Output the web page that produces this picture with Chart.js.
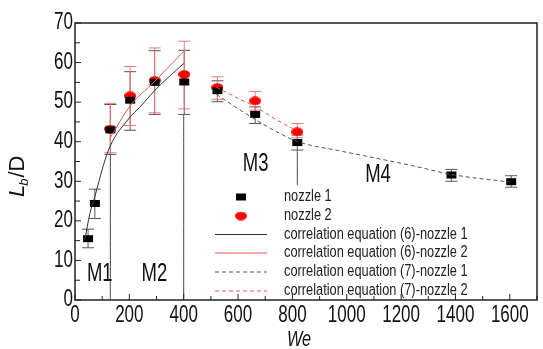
<!DOCTYPE html>
<html>
<head>
<meta charset="utf-8">
<script src="https://cdn.jsdelivr.net/npm/chart.js@4"></script>
<style>
  html, body { margin: 0; padding: 0; background: #fff; }
  #chart { display: block; }
</style>
</head>
<body>
<canvas id="chart" width="543" height="349"></canvas>
<script>
// measured points, nozzle 1 (black squares)
const weN1 = [48, 73, 130, 203, 293, 402, 524, 663, 818, 1385, 1605];
const lbN1 = [15.5, 24.4, 43.0, 50.5, 55.0, 55.1, 52.9, 46.9, 39.8, 31.6, 29.9];
const lbN1Lo = [13.2, 20.6, 36.8, 42.9, 46.9, 46.9, 50.1, 44.6, 37.9, 30.0, 28.5];
const lbN1Hi = [17.9, 28.0, 49.4, 57.7, 63.0, 63.1, 55.4, 48.8, 41.7, 33.0, 31.4];

// measured points, nozzle 2 (red ellipses)
const weN2 = [130, 203, 293, 402, 524, 663, 818];
const lbN2 = [43.2, 51.6, 55.5, 57.0, 53.7, 50.3, 42.5];
const lbN2Lo = [37.2, 44.1, 47.3, 48.3, 50.7, 48.0, 41.0];
const lbN2Hi = [49.7, 59.0, 63.7, 65.4, 56.4, 52.7, 44.6];

// correlation curves
const eq6N1We = [36, 55, 73, 103, 128, 200, 237, 294, 400];
const eq6N1Lb = [15.2, 21.9, 26.1, 33.7, 38.7, 46.0, 48.6, 53.0, 59.8];
const eq6N2We = [128, 200, 294, 400];
const eq6N2Lb = [40.8, 48.8, 55.3, 62.8];
const eq7N1We = [520, 590, 664, 740, 820, 966, 1111, 1257, 1387, 1600];
const eq7N1Lb = [52.0, 48.8, 45.6, 42.6, 40.0, 37.8, 35.8, 33.7, 31.7, 29.8];
const eq7N2We = [520, 590, 664, 740, 818];
const eq7N2Lb = [53.8, 51.3, 48.8, 45.6, 42.7];

// tick labels shown on the axes
const xTickLabels = [0, 200, 400, 600, 800, 1000, 1200, 1400, 1600];
const yTickLabels = [0, 10, 20, 30, 40, 50, 60, 70];

// regime boundaries (x, from, to) and regime labels
const divWe = [130, 400, 818];
const divFrom = [0, 0, 29];
const divTo = [36.8, 46.9, 37.9];
const regimeNames = ['M1', 'M2', 'M3', 'M4'];
const regimeWe = [91, 292, 665, 1115];
const regimeLb = [6.6, 6.6, 34.3, 31.6];

const legendNames = ['nozzle 1', 'nozzle 2',
    'correlation equation (6)-nozzle 1', 'correlation equation (6)-nozzle 2',
    'correlation equation (7)-nozzle 1', 'correlation equation (7)-nozzle 2'];

const FONT = '"Liberation Sans", Arial, sans-serif';
const SQUISH = 0.74; // the source picture is narrower than it is tall

const pts = (xs, ys) => xs.map((x, i) => ({ x: x, y: ys[i] }));

// flattened markers as in the picture
function makeMarker(kind) {
    const c = document.createElement('canvas');
    c.width = 12; c.height = 9;
    const g = c.getContext('2d');
    if (kind === 'rect') {
        g.fillStyle = '#000';
        g.fillRect(1, 1, 10, 7);
    } else {
        g.fillStyle = '#ff0000';
        g.beginPath();
        g.ellipse(6, 4.5, 6, 4.2, 0, 0, Math.PI * 2);
        g.fill();
    }
    return c;
}
const squareMark = makeMarker('rect');
const ellipseMark = makeMarker('ellipse');

function squishText(ctx, txt, x, y, size, align, style) {
    ctx.save();
    ctx.font = (style || '') + ' ' + size + 'px ' + FONT;
    ctx.translate(x, y);
    ctx.scale(SQUISH, 1);
    ctx.textAlign = align;
    ctx.textBaseline = 'middle';
    ctx.fillText(txt, 0, 0);
    ctx.restore();
}

const lineSet = (label, data, color, dash) => ({
    type: 'line', label: label, data: data, borderColor: color, borderWidth: 1,
    borderDash: dash || [], pointRadius: 0, cubicInterpolationMode: 'monotone', fill: false
});

const datasets = [
    lineSet(legendNames[2], pts(eq6N1We, eq6N1Lb), '#333333'),
    lineSet(legendNames[3], pts(eq6N2We, eq6N2Lb), '#e8595c'),
    lineSet(legendNames[4], pts(eq7N1We, eq7N1Lb), '#555555', [4, 3]),
    lineSet(legendNames[5], pts(eq7N2We, eq7N2Lb), '#ec5a5a', [4, 3])
];
divWe.forEach((w, i) => {
    datasets.push(lineSet('div', [{ x: w, y: divFrom[i] }, { x: w, y: divTo[i] }], '#444444'));
});
datasets.push({
    type: 'scatter', label: legendNames[0], data: pts(weN1, lbN1),
    pointStyle: squareMark, pointRadius: 5, errLo: lbN1Lo, errHi: lbN1Hi, errColor: '#555555'
});
datasets.push({
    type: 'scatter', label: legendNames[1], data: pts(weN2, lbN2),
    pointStyle: ellipseMark, pointRadius: 5, errLo: lbN2Lo, errHi: lbN2Hi, errColor: '#e87a7a'
});

// error bars under the markers
const errorBars = {
    id: 'errorBars',
    beforeDatasetsDraw(chart) {
        const ctx = chart.ctx;
        const xs = chart.scales.x, ys = chart.scales.y;
        chart.data.datasets.forEach(ds => {
            if (!ds.errLo) return;
            ctx.save();
            ctx.strokeStyle = ds.errColor;
            ctx.lineWidth = 1;
            ds.data.forEach((p, i) => {
                const px = xs.getPixelForValue(p.x);
                const lo = ys.getPixelForValue(ds.errLo[i]);
                const hi = ys.getPixelForValue(ds.errHi[i]);
                ctx.beginPath();
                ctx.moveTo(px, lo); ctx.lineTo(px, hi);
                ctx.moveTo(px - 6, lo); ctx.lineTo(px + 6, lo);
                ctx.moveTo(px - 6, hi); ctx.lineTo(px + 6, hi);
                ctx.stroke();
            });
            ctx.restore();
        });
    }
};

// frame, inward ticks, tick labels, titles, regime labels, legend
const decorations = {
    id: 'decorations',
    afterDraw(chart) {
        const ctx = chart.ctx;
        const a = chart.chartArea;
        const xs = chart.scales.x, ys = chart.scales.y;
        ctx.save();
        ctx.strokeStyle = '#222';
        ctx.lineWidth = 1.5;
        ctx.strokeRect(a.left, a.top, a.right - a.left, a.bottom - a.top);

        ctx.lineWidth = 1;
        ctx.beginPath();
        xTickLabels.forEach(v => {
            const px = xs.getPixelForValue(v);
            ctx.moveTo(px, a.bottom); ctx.lineTo(px, a.bottom - 6);
            const mx = xs.getPixelForValue(v + 100);
            ctx.moveTo(mx, a.bottom); ctx.lineTo(mx, a.bottom - 4);
        });
        yTickLabels.forEach(v => {
            const py = ys.getPixelForValue(v);
            ctx.moveTo(a.left, py); ctx.lineTo(a.left + 6, py);
            if (v + 5 < ys.max) {
                const my = ys.getPixelForValue(v + 5);
                ctx.moveTo(a.left, my); ctx.lineTo(a.left + 5, my);
            }
        });
        ctx.stroke();

        ctx.fillStyle = '#111';
        xTickLabels.forEach(v => {
            squishText(ctx, String(v), xs.getPixelForValue(v), a.bottom + 16, 23, 'center');
        });
        yTickLabels.forEach(v => {
            squishText(ctx, String(v), a.left - 2, ys.getPixelForValue(v), 23, 'right');
        });

        // x title
        squishText(ctx, 'We', 299, 340, 22, 'center', 'italic');

        // y title, rotated: L_b/D
        ctx.save();
        ctx.translate(18, 175);
        ctx.rotate(-Math.PI / 2);
        ctx.textBaseline = 'middle';
        ctx.textAlign = 'left';
        let cx = -22;
        ctx.font = 'italic 22px ' + FONT;
        ctx.fillText('L', cx, 0);
        cx += ctx.measureText('L').width;
        ctx.font = 'italic 13px ' + FONT;
        ctx.fillText('b', cx - 1, 6);
        cx += ctx.measureText('b').width;
        ctx.font = '22px ' + FONT;
        ctx.fillText('/D', cx, 0);
        ctx.restore();

        // regime labels
        regimeNames.forEach((n, i) => {
            squishText(ctx, n, xs.getPixelForValue(regimeWe[i]), ys.getPixelForValue(regimeLb[i]), 25, 'center');
        });

        // legend
        const rowY = [197, 216, 234.5, 253, 272, 291];
        const lineStyles = datasets.slice(0, 4);
        ctx.drawImage(squareMark, 241 - 6, rowY[0] - 4.5);
        ctx.drawImage(ellipseMark, 241 - 6, rowY[1] - 4.5);
        lineStyles.forEach((ds, i) => {
            ctx.save();
            ctx.strokeStyle = ds.borderColor;
            ctx.lineWidth = 1;
            ctx.setLineDash(ds.borderDash);
            ctx.beginPath();
            ctx.moveTo(215, rowY[i + 2]); ctx.lineTo(267, rowY[i + 2]);
            ctx.stroke();
            ctx.restore();
        });
        ctx.fillStyle = '#222';
        legendNames.forEach((n, i) => {
            ctx.save();
            ctx.font = '16px ' + FONT;
            ctx.translate(284, rowY[i]);
            ctx.scale(0.8, 1);
            ctx.textBaseline = 'middle';
            ctx.fillText(n, 0, 0);
            ctx.restore();
        });
        ctx.restore();
    }
};

const zeroFit = s => { if (s.isHorizontal()) s.height = 0; else s.width = 0; };

new Chart(document.getElementById('chart'), {
    type: 'scatter',
    data: { datasets: datasets },
    options: {
        responsive: false,
        animation: false,
        devicePixelRatio: 1,
        layout: { padding: { left: 75, right: 2, top: 23, bottom: 49 } },
        plugins: { legend: { display: false }, tooltip: { enabled: false } },
        scales: {
            x: {
                type: 'linear', min: 0, max: 1700,
                ticks: { stepSize: 200, display: false },
                grid: { display: false, drawTicks: false },
                border: { display: false },
                afterFit: zeroFit
            },
            y: {
                type: 'linear', min: 0, max: 70,
                ticks: { stepSize: 10, display: false },
                grid: { display: false, drawTicks: false },
                border: { display: false },
                afterFit: zeroFit
            }
        }
    },
    plugins: [errorBars, decorations]
});
</script>
</body>
</html>
